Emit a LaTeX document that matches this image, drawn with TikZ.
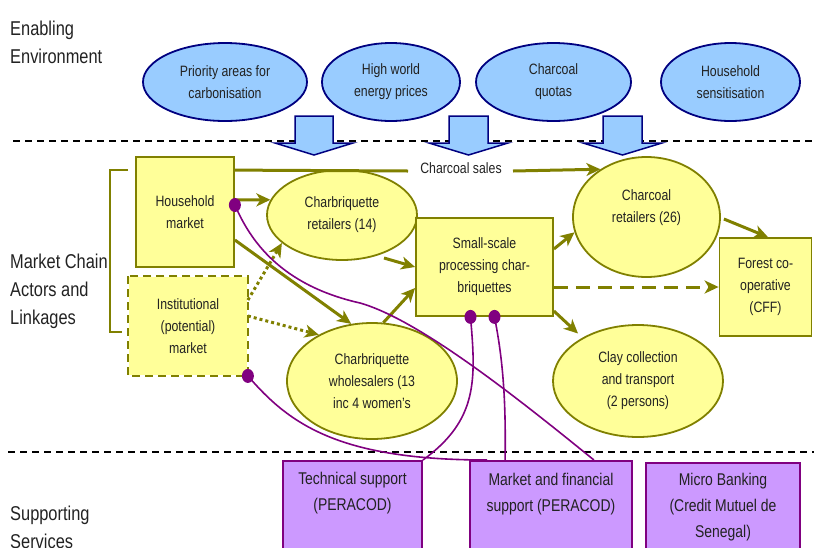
\documentclass[tikz,border=0pt]{standalone}
\usepackage{fontspec}
\setmainfont{Liberation Sans}[FakeStretch=0.82]
\usetikzlibrary{arrows.meta,shapes.geometric}
\definecolor{olv}{HTML}{808000}
\definecolor{yfill}{HTML}{FFFF99}
\definecolor{bfill}{HTML}{99CCFF}
\definecolor{nvy}{HTML}{000080}
\definecolor{pfill}{HTML}{CC99FF}
\definecolor{purp}{HTML}{800080}
\definecolor{txt}{HTML}{222222}
\newcommand\flbl{\fontsize{15}{22}\selectfont}
\newcommand\fbig{\fontsize{17}{26}\selectfont}
\newcommand\fsec{\fontsize{20}{28}\selectfont}
\begin{document}
\begin{tikzpicture}[x=1pt,y=-1pt,
  envell/.style={ellipse, draw=nvy, fill=bfill, line width=1.8pt, inner sep=0pt, align=center, font=\flbl, text=txt},
  yrect/.style={rectangle, draw=olv, fill=yfill, line width=1.8pt, inner sep=0pt, align=center, font=\flbl, text=txt},
  yell/.style={ellipse, draw=olv, fill=yfill, line width=1.8pt, inner sep=0pt, align=center, font=\flbl, text=txt},
  prect/.style={rectangle, draw=purp, fill=pfill, line width=1.8pt, inner sep=0pt},
  ptext/.style={align=center, font=\fbig, text=txt, inner sep=0pt},
  sec/.style={align=left, font=\fsec, text=txt, inner sep=0pt, anchor=west},
  oarrow/.style={draw=olv, line width=3pt, -{Stealth[length=14pt,width=13pt,inset=4pt]}},
  pcurve/.style={draw=purp, line width=1.6pt},
  secdash/.style={draw=black, line width=1.6pt, dash pattern=on 7pt off 5pt},
  blockarrow/.style={draw=nvy, fill=bfill, line width=1.5pt, line join=miter}
]
\useasboundingbox (0,0) rectangle (814,547);
\clip (0,0) rectangle (814,547);

% section labels
\node[sec] (envlab) at (10,42) {Enabling\\Environment};
\node[sec] (mcalab) at (10,291) {Market Chain\\Actors and\\Linkages};
\node[sec] (suplab) at (10,527) {Supporting\\Services};

% dashed separators
\draw[secdash] (13,141) -- (814,141);
\draw[secdash] (8,452) -- (814,452);

% enabling environment ellipses
\node[envell, minimum width=164pt, minimum height=78pt] (b1) at (225,82) {Priority areas for\\carbonisation};
\node[envell, minimum width=138pt, minimum height=78pt] (b2) at (391,82) {High world\\energy prices};
\node[envell, minimum width=155pt, minimum height=78pt] (b3) at (553.5,82) {Charcoal\\quotas};
\node[envell, minimum width=139pt, minimum height=78pt] (b4) at (730.5,82) {Household\\sensitisation};

% block arrows
\filldraw[blockarrow] (295,116) -- (333,116) -- (333,143) -- (353,143) -- (314,155) -- (275,143) -- (295,143) -- cycle;
\filldraw[blockarrow] (449,116) -- (488,116) -- (488,143) -- (508,143) -- (468.5,155) -- (429,143) -- (449,143) -- cycle;
\filldraw[blockarrow] (603,116) -- (642,116) -- (642,143) -- (662,143) -- (622.5,155) -- (583,143) -- (603,143) -- cycle;

% bracket
\draw[olv, line width=2.5pt] (128,170) -- (110,170) -- (110,332) -- (122,332);

% market chain nodes
\node[yrect, minimum width=98pt, minimum height=110pt] (hm) at (185,212) {Household\\market};
\node[yrect, draw=none, minimum width=118pt, minimum height=98pt] (im) at (188,326) {Institutional\\(potential)\\market};
\draw[olv, line width=1.8pt, dash pattern=on 8pt off 5pt] (im.north west) rectangle (im.south east);
\node[yell, minimum width=150pt, minimum height=90pt] (cr14) at (342,215) {Charbriquette\\retailers (14)};
\node[yell, minimum width=170pt, minimum height=116pt] (cw) at (372,381) {Charbriquette\\wholesalers (13\\inc 4 women's};
\node[yrect, minimum width=137pt, minimum height=98pt] (ssp) at (484.5,267) {Small-scale\\processing char-\\briquettes};
\node[yell, minimum width=147pt, minimum height=120pt] (cr26) at (646.5,217) {Charcoal\\retailers (26)\\\mbox{}};
\node[yrect, minimum width=92pt, minimum height=98pt] (ff) at (765.5,287) {Forest co-\\operative\\(CFF)};
\node[yell, minimum width=170pt, minimum height=112pt] (cc) at (638,381) {Clay collection\\and transport\\(2 persons)};

% supporting services
\node[prect, minimum width=139pt, minimum height=100pt, anchor=north] (tech) at (352.5,460) {};
\node[ptext] (techt) at (352.5,493) {Technical support\\(PERACOD)};
\node[prect, minimum width=162pt, minimum height=100pt, anchor=north] (mf) at (551,460) {};
\node[ptext] (mft) at (551,494) {Market and financial\\support (PERACOD)};
\node[prect, minimum width=154pt, minimum height=100pt, anchor=north] (mb) at (723,462) {};
\node[ptext] (mbt) at (723,507) {Micro Banking\\(Credit Mutuel de\\Senegal)};

% olive arrows
\draw[draw=olv, line width=3pt] ([yshift=-14pt]hm.north east) -- (408,171);
\node[font=\flbl, text=txt, inner sep=0pt] (cslab) at (461,168) {Charcoal sales};
\draw[oarrow] (513,171) -- (cr26.134);
\draw[oarrow] ([yshift=12pt]hm.east) -- (cr14.168);
\draw[oarrow] ([yshift=-28pt]hm.east) -- (cw.110);
\coordinate (a1) at (384,258);
\draw[oarrow] (a1) -- (ssp.west);
\draw[oarrow] (cw.79) -- ([yshift=-21pt]ssp.west);
\draw[oarrow, dash pattern=on 3pt off 3pt] ([yshift=26pt]im.east) -- (cr14.205);
\draw[oarrow, dash pattern=on 3pt off 3pt] ([yshift=10pt]im.east) -- (cw.139);
\draw[oarrow] ([yshift=18pt]ssp.east) -- (cr26.192);
\draw[oarrow, dash pattern=on 14pt off 8pt] ([yshift=-20pt]ssp.east) -- (ff.west);
\draw[oarrow, shorten >=6pt] ([yshift=-44pt]ssp.east) -- (cc.142);
\draw[oarrow] ([xshift=3pt,yshift=-2pt]cr26.east) -- ([xshift=2.5pt]ff.north);

% purple connectors
\draw[pcurve] ([yshift=7pt]hm.east) .. controls (250,240) and (280,285) .. (360,303)
   .. controls (420,320) and (520,400) .. ([xshift=-39pt]mf.north east);
\draw[pcurve] (im.south east) .. controls (290,425) and (340,460) .. ([xshift=18pt]mf.north west);
\draw[pcurve] ([xshift=-14pt]ssp.south) .. controls (476,380) and (478,420) .. (tech.north east);
\draw[pcurve] ([xshift=10pt]ssp.south) .. controls (503,360) and (506,400) .. ([xshift=36pt]mf.north west);
\fill[purp] ([yshift=7pt]hm.east) ellipse (6pt and 7pt);
\fill[purp] (im.south east) ellipse (6pt and 7pt);
\fill[purp] ([xshift=-14pt]ssp.south) ellipse (6pt and 7pt);
\fill[purp] ([xshift=10pt]ssp.south) ellipse (6pt and 7pt);
\end{tikzpicture}
\end{document}
